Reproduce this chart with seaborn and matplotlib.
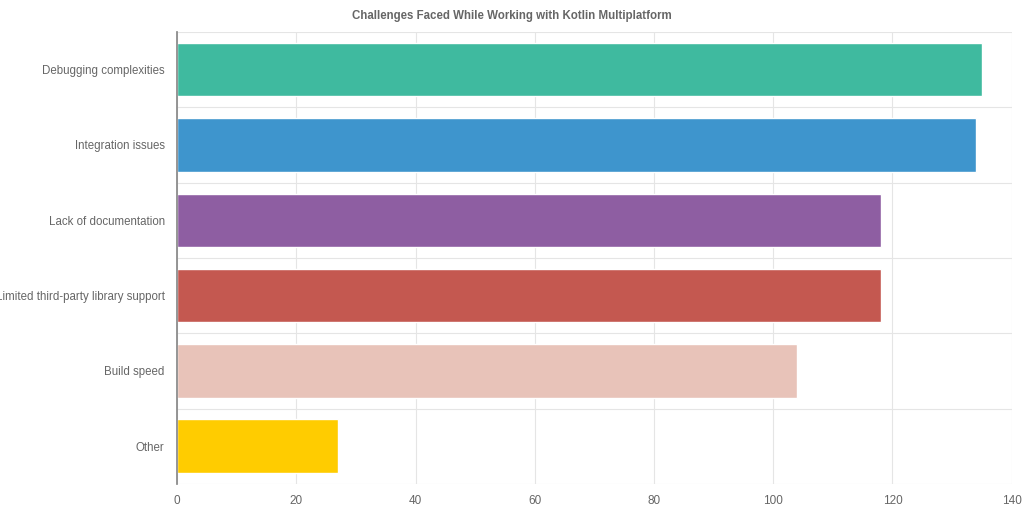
import matplotlib
matplotlib.use("Agg")
import matplotlib.pyplot as plt
import seaborn as sns
import pandas as pd
import numpy as np

categories = ["Debugging complexities", "Integration issues", "Lack of documentation",
              "Limited third-party library support", "Build speed", "Other"]
values = [135, 134, 118, 118, 104, 27]
colors = ["#3FBA9F", "#3E95CD", "#8E5EA2", "#C45850", "#E8C3B9", "#FFCC00"]

sns.set_theme(style="white")
plt.rcParams['font.family'] = ['Liberation Sans', 'DejaVu Sans']

df = pd.DataFrame({"cat": categories, "val": values})
fig = plt.figure(figsize=(10.24, 5.12), dpi=100)
ax = fig.add_axes([0.173, 0.055, 0.815, 0.8825])
sns.barplot(data=df, x="val", y="cat", hue="cat", palette=colors, legend=False,
            width=0.71, ax=ax, saturation=1)
ax.set_xlim(0, 140)
ax.set_xticks(range(0, 141, 20))
ax.set_yticks(np.arange(-0.5, len(categories), 1), minor=True)
ax.grid(True, axis="x", color="#e5e5e5", linewidth=0.8)
ax.grid(True, axis="y", which="minor", color="#e5e5e5", linewidth=0.8)
ax.set_axisbelow(True)
ax.set_xlabel("")
ax.set_ylabel("")
for s in ["top", "right", "bottom"]:
    ax.spines[s].set_visible(False)
ax.spines["left"].set_color("#888888")
ax.tick_params(axis="y", which="major", labelsize=8.3, colors="#666666", length=0, pad=9)
ax.tick_params(axis="x", which="major", labelsize=8.5, colors="#666666", length=0, pad=8)
ax.tick_params(axis="y", which="minor", length=0)
fig.suptitle("Challenges Faced While Working with Kotlin Multiplatform", y=0.98,
             fontsize=8.3, fontweight="bold", color="#666666")
fig.savefig("out.png", dpi=100)
